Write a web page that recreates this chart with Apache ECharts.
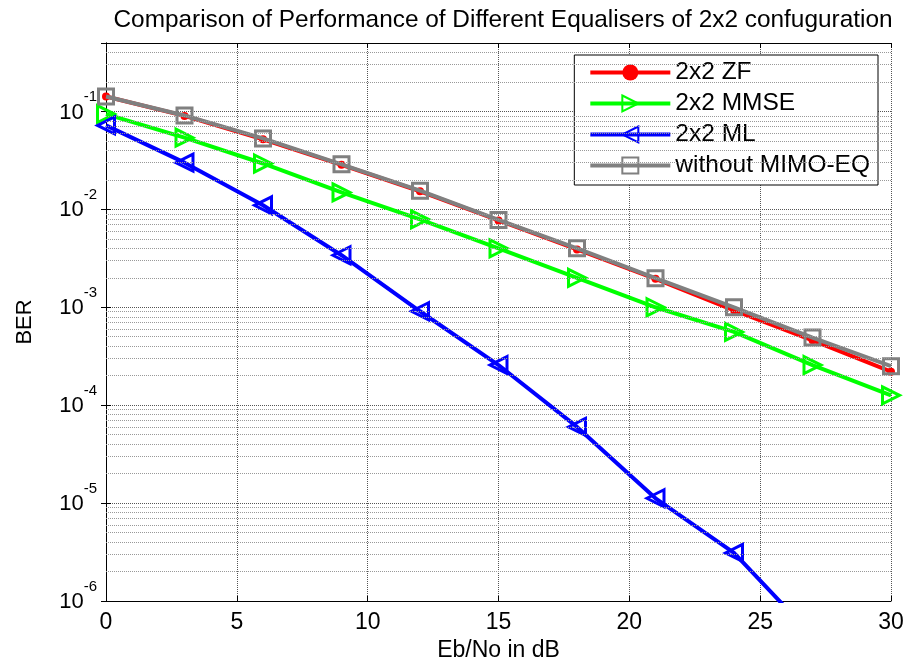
<!DOCTYPE html>
<html>
<head>
<meta charset="utf-8">
<script src="https://cdn.jsdelivr.net/npm/echarts@6/dist/echarts.min.js"></script>
<style>
  html, body { margin: 0; padding: 0; background: #fff; }
  #chart { width: 913px; height: 663px; }
</style>
</head>
<body>
<div id="chart"></div>
<script>
// Eb/No in dB
var snr = [0, 3, 6, 9, 12, 15, 18, 21, 24, 27, 30]
var berZF = [0.142, 0.090, 0.052, 0.0285, 0.0153, 0.0077, 0.0039, 0.00195, 0.00093, 0.00046, 0.00022]
var berMMSE = [0.094, 0.054, 0.0294, 0.0149, 0.0079, 0.0040, 0.0020, 0.0010, 0.00056, 0.000257, 0.000126]
var berML = [0.072, 0.030, 0.011, 0.0034, 0.00091, 0.000257, 0.000060, 0.0000112, 0.0000031, 0.00000044, null]
var berNoEq = [0.142, 0.091, 0.053, 0.0288, 0.0155, 0.0078, 0.0040, 0.00198, 0.0010, 0.00049, 0.00025]

var seriesNames = ['2x2 ZF', '2x2 MMSE', '2x2 ML', 'without MIMO-EQ']
var seriesColors = ['#ff0000', '#00ff00', '#0000ff', '#808080']

// minor log grid lines
var decades = [-6, -5, -4, -3, -2, -1]
var mantissas = [2, 3, 4, 5, 6, 7, 8, 9]
var yMin = 1e-6
var yMax = 0.5

var font = 'Liberation Sans, Arial, sans-serif'

function pairs(vals) {
  return snr.map(function(x, i) { return [x, vals[i]] })
}

var minorLines = []
decades.forEach(function(d) {
  mantissas.forEach(function(m) {
    var v = m * Math.pow(10, d)
    if (v < yMax) minorLines.push({ yAxis: v })
  })
})

var triRight = 'path://M0,0 L10,5 L0,10 Z'
var triLeft = 'path://M10,0 L0,5 L10,10 Z'

var chart = echarts.init(document.getElementById('chart'), null, { renderer: 'canvas' })

function logLabel(v) {
  var e = Math.log10(v)
  var r = Math.round(e)
  if (Math.abs(e - r) > 1e-6) return ''
  return '{b|10}{e|' + r + '}'
}

chart.setOption({
  animation: false,
  backgroundColor: '#fff',
  title: {
    text: 'Comparison of Performance of Different Equalisers of 2x2 confuguration',
    left: 498,
    top: 3,
    textAlign: 'center',
    textStyle: { fontFamily: font, fontSize: 24.4, fontWeight: 'normal', color: '#000' }
  },
  grid: { left: 106, right: 22, top: 43, bottom: 62, containLabel: false, outerBoundsMode: 'none' },
  legend: {
    orient: 'vertical',
    right: 35,
    top: 55,
    data: seriesNames.map(function(n, i) {
      return { name: n, lineStyle: { color: seriesColors[i], width: 4 } }
    }),
    itemWidth: 80,
    itemHeight: 20,
    itemGap: 6,
    padding: [5, 8, 7, 14],
    backgroundColor: '#fff',
    borderColor: '#000',
    borderWidth: 1,
    borderRadius: 0,
    textStyle: { fontFamily: font, fontSize: 24.5, lineHeight: 24, color: '#000' }
  },
  xAxis: [{
    type: 'value',
    min: 0,
    max: 30,
    interval: 5,
    name: 'Eb/No in dB',
    nameLocation: 'middle',
    nameGap: 38,
    nameTextStyle: { fontFamily: font, fontSize: 23, color: '#000' },
    axisLine: { lineStyle: { color: '#000', width: 1 } },
    axisTick: { inside: true, length: 5, lineStyle: { color: '#000' } },
    axisLabel: { fontFamily: font, fontSize: 23, color: '#000', margin: 10 },
    splitLine: { show: true, lineStyle: { color: '#555', type: 'dotted', width: 1 } }
  }, {
    type: 'value',
    position: 'top',
    min: 0,
    max: 30,
    interval: 5,
    axisLine: { lineStyle: { color: '#000', width: 1 } },
    axisTick: { inside: true, length: 5, lineStyle: { color: '#000' } },
    axisLabel: { show: false },
    splitLine: { show: false }
  }],
  yAxis: [{
    type: 'log',
    logBase: 10,
    min: yMin,
    max: yMax,
    name: 'BER',
    nameLocation: 'middle',
    nameGap: 70,
    nameTextStyle: { fontFamily: font, fontSize: 22, color: '#000' },
    axisLine: { show: true, lineStyle: { color: '#000', width: 1 } },
    axisTick: { inside: true, length: 5, lineStyle: { color: '#000' } },
    axisLabel: {
      margin: 9,
      formatter: logLabel,
      rich: {
        b: { fontFamily: font, fontSize: 22, lineHeight: 24, color: '#000', verticalAlign: 'bottom', padding: [3, 0, 0, 0] },
        e: { fontFamily: font, fontSize: 15, lineHeight: 16, color: '#000', verticalAlign: 'bottom', padding: [0, 0, 19, 0] }
      }
    },
    splitLine: { show: true, lineStyle: { color: '#555', type: 'dotted', width: 1 } }
  }, {
    type: 'log',
    logBase: 10,
    min: yMin,
    max: yMax,
    position: 'right',
    axisLine: { show: true, lineStyle: { color: '#000', width: 1 } },
    axisTick: { inside: true, length: 5, lineStyle: { color: '#000' } },
    axisLabel: { show: false },
    splitLine: { show: false }
  }],
  series: [{
    name: 'grid',
    type: 'line',
    data: [],
    silent: true,
    z: 1,
    markLine: {
      silent: true,
      symbol: 'none',
      precision: 12,
      label: { show: false },
      lineStyle: { color: '#999', type: 'dotted', width: 1 },
      data: minorLines
    }
  }, {
    name: seriesNames[0],
    type: 'line',
    data: pairs(berZF),
    z: 3,
    color: seriesColors[0],
    symbol: 'circle',
    symbolSize: 8,
    lineStyle: { width: 4, color: seriesColors[0] },
    itemStyle: { color: seriesColors[0] }
  }, {
    name: seriesNames[1],
    type: 'line',
    data: pairs(berMMSE),
    z: 3,
    color: seriesColors[1],
    symbol: triRight,
    symbolSize: 17,
    lineStyle: { width: 4, color: seriesColors[1] },
    itemStyle: { color: 'rgba(255,255,255,0)', borderColor: seriesColors[1], borderWidth: 3 }
  }, {
    name: seriesNames[2],
    type: 'line',
    data: pairs(berML),
    z: 3,
    clip: true,
    color: seriesColors[2],
    symbol: triLeft,
    symbolSize: 17,
    lineStyle: { width: 4, color: seriesColors[2] },
    itemStyle: { color: 'rgba(255,255,255,0)', borderColor: seriesColors[2], borderWidth: 3 }
  }, {
    name: seriesNames[3],
    type: 'line',
    data: pairs(berNoEq),
    z: 4,
    color: seriesColors[3],
    symbol: 'rect',
    symbolSize: 15,
    lineStyle: { width: 4, color: seriesColors[3] },
    itemStyle: { color: 'rgba(255,255,255,0)', borderColor: seriesColors[3], borderWidth: 3 }
  }]
})
</script>
</body>
</html>
